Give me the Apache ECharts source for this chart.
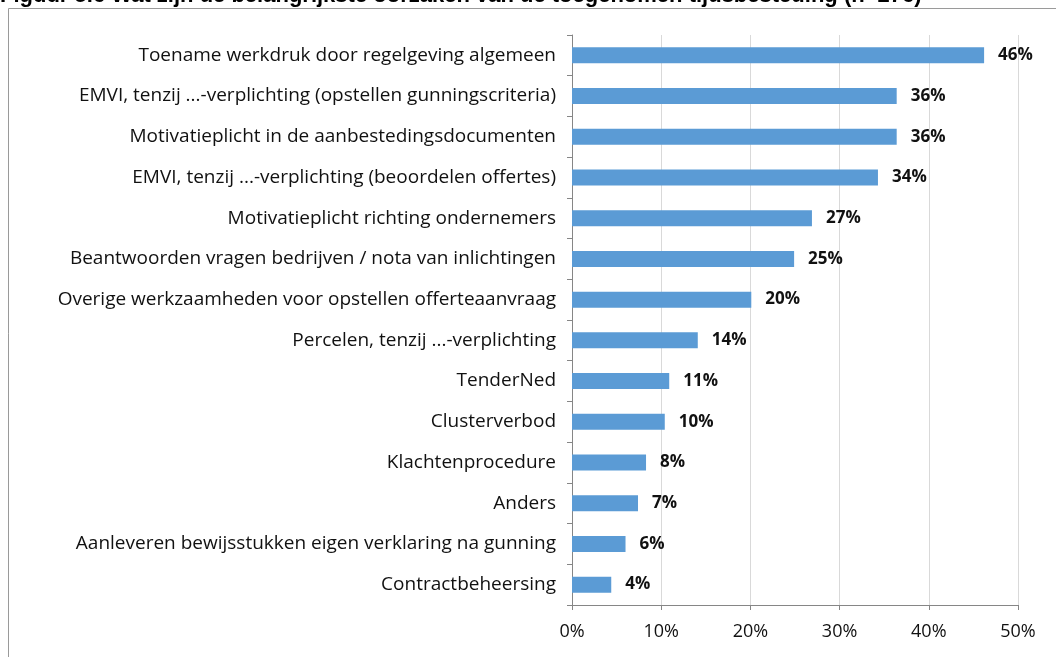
<!DOCTYPE html>
<html>
<head>
<meta charset="utf-8">
<script src="https://cdn.jsdelivr.net/npm/echarts@6/dist/echarts.min.js"></script>
<style>
	html, body { margin: 0; padding: 0; background: #fff; }
	#chart { width: 1056px; height: 657px; }
</style>
</head>
<body>
<div id="chart"></div>
<script>
var categories = [
	'Toename werkdruk door regelgeving algemeen',
	'EMVI, tenzij ...-verplichting (opstellen gunningscriteria)',
	'Motivatieplicht in de aanbestedingsdocumenten',
	'EMVI, tenzij ...-verplichting (beoordelen offertes)',
	'Motivatieplicht richting ondernemers',
	'Beantwoorden vragen bedrijven / nota van inlichtingen',
	'Overige werkzaamheden voor opstellen offerteaanvraag',
	'Percelen, tenzij ...-verplichting',
	'TenderNed',
	'Clusterverbod',
	'Klachtenprocedure',
	'Anders',
	'Aanleveren bewijsstukken eigen verklaring na gunning',
	'Contractbeheersing'
];
// aandeel in procenten
var values = [46.2, 36.4, 36.4, 34.3, 26.9, 24.9, 20.1, 14.1, 10.9, 10.4, 8.3, 7.4, 6.0, 4.4];
var xTicks = [0, 10, 20, 30, 40, 50];

var myChart = echarts.init(document.getElementById('chart'));

var option = {
	animation: false,
	backgroundColor: '#fff',
	graphic: [{
		type: 'rect',
		shape: { x: 8.5, y: 8.5, width: 1200, height: 800 },
		style: { fill: 'none', stroke: '#9a9a9a', lineWidth: 1 },
		z: 0
	}, {
		type: 'text',
		left: 0,
		top: -15,
		style: {
			text: 'Figuur 5.6 Wat zijn de belangrijkste oorzaken van de toegenomen tijdsbesteding (n=276)',
			fontFamily: 'Liberation Sans',
			fontWeight: 'bold',
			fontSize: 22,
			fill: '#000'
		}
	}],
	grid: {
		left: 572,
		right: 38,
		top: 35,
		bottom: 52
	},
	xAxis: {
		type: 'value',
		min: xTicks[0],
		max: xTicks[xTicks.length - 1],
		interval: 10,
		axisLine: { show: true, lineStyle: { color: '#868686' } },
		axisTick: { show: true, length: 5, lineStyle: { color: '#868686' } },
		axisLabel: {
			color: '#111',
			fontFamily: 'Open Sans',
			fontSize: 18,
			margin: 18,
			formatter: '{value}%'
		},
		splitLine: { show: true, lineStyle: { color: '#d9d9d9', width: 1 } }
	},
	yAxis: {
		type: 'category',
		inverse: true,
		data: categories,
		axisLine: { show: true, lineStyle: { color: '#868686' } },
		axisTick: { show: true, length: 5, lineStyle: { color: '#868686' } },
		axisLabel: {
			color: '#111',
			fontFamily: 'Open Sans',
			fontSize: 19,
			margin: 16
		}
	},
	series: [{
		type: 'bar',
		data: values,
		barWidth: 16,
		itemStyle: { color: '#5b9bd5' },
		label: {
			show: true,
			position: 'right',
			distance: 14,
			color: '#111',
			fontFamily: 'Open Sans',
			fontWeight: 'bold',
			fontSize: 17,
			formatter: function(p) {
				return Math.round(p.value) + '%';
			}
		}
	}]
};

myChart.setOption(option);
</script>
</body>
</html>
